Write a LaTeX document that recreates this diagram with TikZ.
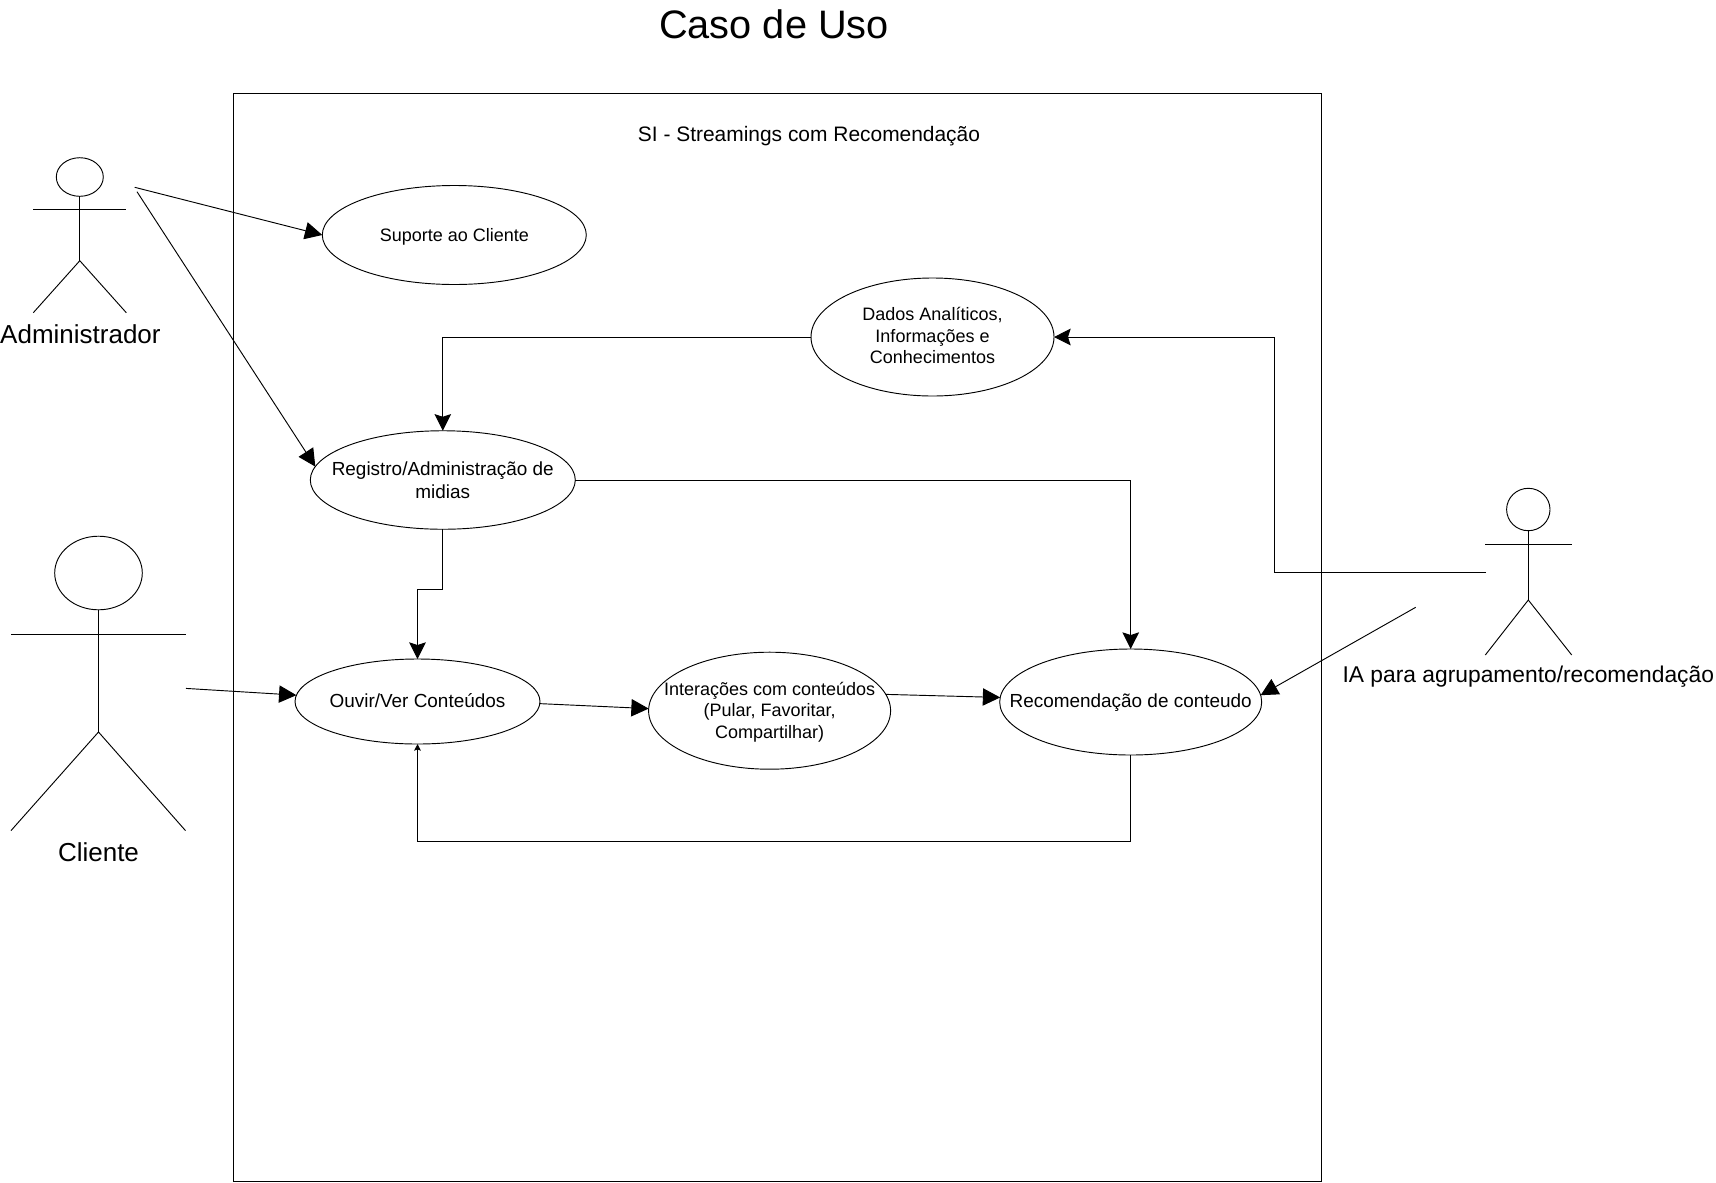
\documentclass[tikz,border=0pt]{standalone}
\usepackage{fontspec}
\setmainfont{Liberation Sans}
\usetikzlibrary{arrows.meta,shapes.geometric}

\begin{document}
\begin{tikzpicture}[
    x=0.75pt,
    y=-0.75pt,
    line width=0.7pt,
    usecase/.style 2 args = {
      draw,
      ellipse,
      inner sep = 0pt,
      outer sep = 0pt,
      minimum width = #1*0.75pt,
      minimum height = #2*0.75pt
    },
    bigtext/.style = {align=center, font=\fontsize{14.2pt}{17.25pt}\selectfont},
    smalltext/.style = {align=center, font=\fontsize{13.5pt}{16pt}\selectfont},
    actorname/.style = {font=\fontsize{19.5pt}{23pt}\selectfont},
    assoc/.style = {-{Triangle[length=13pt,width=13pt]}},
    flow/.style = {-{Stealth[length=12.5pt,width=12.5pt,inset=2pt]}},
    flowsmall/.style = {-{Stealth[length=5pt,width=5pt,inset=1pt]}}
  ]
  \useasboundingbox (0,0) rectangle (1716,1182);

  % title and system frame
  \node[font=\fontsize{29.8pt}{34pt}\selectfont] (title) at (774,24) {Caso de Uso};
  \draw (233,93) rectangle (1321,1181);
  \node[font=\fontsize{15.7pt}{18pt}\selectfont] (system) at (809,136) {SI - Streamings com Recomendação};

  % use cases
  \node[usecase={264}{99}, label={[smalltext,yshift=-1.5pt]center:Suporte ao Cliente}] (suporte) at (454.3,235) {};
  \node[usecase={243}{118}, label={[smalltext,yshift=1pt]center:Dados Analíticos,\\Informações e\\Conhecimentos}] (dados) at (932.5,337) {};
  \node[usecase={265}{98.5}, label={[bigtext]center:Registro/Administração de\\midias}] (registro) at (442.8,480) {};
  \node[usecase={245}{85}, label={[bigtext,yshift=0.7pt]center:Ouvir/Ver Conteúdos}] (ouvir) at (417.5,701.5) {};
  \node[usecase={242}{117}, label={[smalltext,yshift=-1pt]center:Interações com conteúdos\\(Pular, Favoritar,\\Compartilhar)}] (interacoes) at (769.6,710.7) {};
  \node[usecase={262}{106}, label={[bigtext,yshift=-0.7pt]center:Recomendação de conteudo}] (recomendacao) at (1130.7,702) {};

  % actor Administrador
  \node[usecase={47}{38.6}] (admhead) at (79.8,177) {};
  \draw (admhead.south) -- (79.8,260.7) coordinate (admhip);
  \draw (33.3,209.3) -- (126.3,209.3);
  \draw (33.3,312.7) -- (admhip) -- (126.3,312.7);
  \node[actorname] (adm) at (80.4,334) {Administrador};

  % actor Cliente
  \node[usecase={87.6}{73.6}] (clihead) at (98.5,573) {};
  \draw (clihead.south) -- (98.5,732) coordinate (clihip);
  \draw (11,634) -- (185.5,634);
  \draw (11,830.6) -- (clihip) -- (185.5,830.6);
  \node[actorname] (cli) at (98.5,852.5) {Cliente};

  % actor IA
  \node[usecase={43.4}{42.4}] (iahead) at (1528.3,509.5) {};
  \draw (iahead.south) -- (1528.3,600) coordinate (iahip);
  \draw (1485.3,544) -- (1571.7,544);
  \draw (1485.3,655) -- (iahip) -- (1571.7,655);
  \node[font=\fontsize{17.1pt}{20pt}\selectfont] (ia) at (1528.3,677) {IA para agrupamento/recomendação};

  % free ends next to the actors
  \coordinate (admout) at (134.7,187.3);
  \coordinate (admout2) at (137,191.7);
  \coordinate (cliout) at (186,688.4);
  \coordinate (iaout) at (1486,572);
  \coordinate (iaout2) at (1415.7,607.3);

  % connectors
  \draw[assoc] (admout) -- (suporte.west);
  \draw[assoc] (admout2) -- (registro.174);
  \draw[assoc] (cliout) -- (ouvir.177);
  \draw[assoc] (iaout2) -- (recomendacao.3);
  \draw[flow] (iaout) -- (1274.3,572) -- (1274.3,337) -- (dados.east);
  \draw[flow] (dados.west) -| (registro.north);
  \draw[flow] (registro.east) -| (recomendacao.north);
  \draw[flow] (registro.south) -- (442.8,589.5) -- (417.5,589.5) -- (ouvir.north);
  \draw[assoc] (ouvir.-1) -- (interacoes.179);
  \draw[assoc] (interacoes.8) -- (recomendacao.178);
  \draw[flowsmall] (recomendacao.south) -- (1130.7,841.5) -- (417.5,841.5) -- (ouvir.south);
\end{tikzpicture}
\end{document}
